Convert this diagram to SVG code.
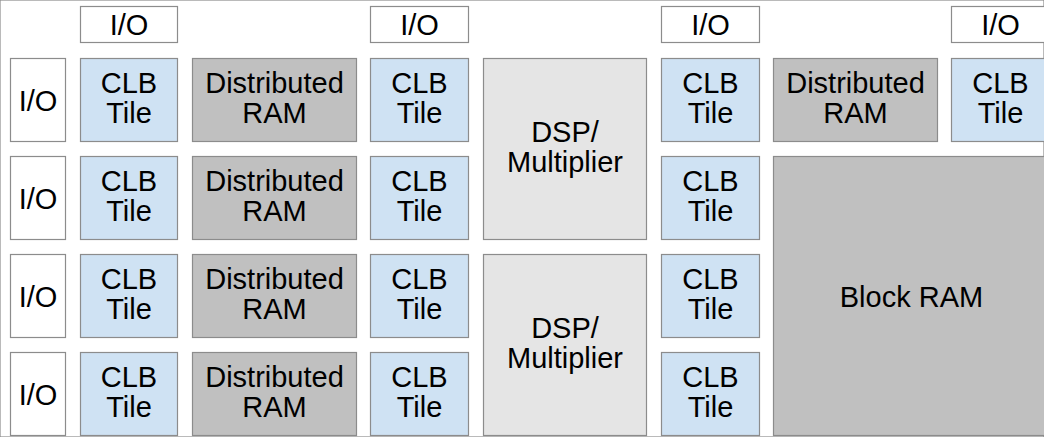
<svg xmlns="http://www.w3.org/2000/svg" width="1044" height="437" viewBox="0 0 1044 437">
  <style>
    rect { stroke: #8c8c8c; stroke-width: 1.2; }
    .io { fill: #ffffff; }
    .clb { fill: #cfe2f3; }
    .dram { fill: #c0c0c0; }
    .dsp { fill: #e5e5e5; }
    .bram { fill: #c0c0c0; }
    text { font-family: "Liberation Sans", Arial, sans-serif; font-size: 29px; fill: #000000; text-anchor: middle; }
  </style>
  <rect width="1044" height="437" fill="#ffffff" stroke="none"/>

  <!-- top I/O pads -->
  <g id="io-top-1"><rect class="io" x="80.5" y="6.5" width="97" height="36"/><text x="129" y="35">I/O</text></g>
  <g id="io-top-2"><rect class="io" x="370.5" y="6.5" width="98" height="36"/><text x="419.5" y="35">I/O</text></g>
  <g id="io-top-3"><rect class="io" x="661.5" y="6.5" width="98" height="36"/><text x="710.5" y="35">I/O</text></g>
  <g id="io-top-4"><rect class="io" x="951.5" y="6.5" width="98" height="36"/><text x="1000.5" y="35">I/O</text></g>

  <!-- left I/O pads -->
  <g id="io-left-1"><rect class="io" x="10.5" y="58.5" width="55" height="83"/><text x="38" y="111">I/O</text></g>
  <g id="io-left-2"><rect class="io" x="10.5" y="156.5" width="55" height="83"/><text x="38" y="209">I/O</text></g>
  <g id="io-left-3"><rect class="io" x="10.5" y="254.5" width="55" height="83"/><text x="38" y="307">I/O</text></g>
  <g id="io-left-4"><rect class="io" x="10.5" y="352.5" width="55" height="83"/><text x="38" y="405">I/O</text></g>

  <!-- CLB column 1 -->
  <g id="clb-1-1"><rect class="clb" x="80.5" y="58.5" width="97" height="83"/><text x="129" y="93">CLB</text><text x="129" y="123">Tile</text></g>
  <g id="clb-1-2"><rect class="clb" x="80.5" y="156.5" width="97" height="83"/><text x="129" y="191">CLB</text><text x="129" y="221">Tile</text></g>
  <g id="clb-1-3"><rect class="clb" x="80.5" y="254.5" width="97" height="83"/><text x="129" y="289">CLB</text><text x="129" y="319">Tile</text></g>
  <g id="clb-1-4"><rect class="clb" x="80.5" y="352.5" width="97" height="83"/><text x="129" y="387">CLB</text><text x="129" y="417">Tile</text></g>

  <!-- distributed RAM column -->
  <g id="dram-1"><rect class="dram" x="192.5" y="58.5" width="164" height="83"/><text x="274.5" y="93">Distributed</text><text x="274.5" y="123">RAM</text></g>
  <g id="dram-2"><rect class="dram" x="192.5" y="156.5" width="164" height="83"/><text x="274.5" y="191">Distributed</text><text x="274.5" y="221">RAM</text></g>
  <g id="dram-3"><rect class="dram" x="192.5" y="254.5" width="164" height="83"/><text x="274.5" y="289">Distributed</text><text x="274.5" y="319">RAM</text></g>
  <g id="dram-4"><rect class="dram" x="192.5" y="352.5" width="164" height="83"/><text x="274.5" y="387">Distributed</text><text x="274.5" y="417">RAM</text></g>

  <!-- CLB column 2 -->
  <g id="clb-2-1"><rect class="clb" x="370.5" y="58.5" width="98" height="83"/><text x="419.5" y="93">CLB</text><text x="419.5" y="123">Tile</text></g>
  <g id="clb-2-2"><rect class="clb" x="370.5" y="156.5" width="98" height="83"/><text x="419.5" y="191">CLB</text><text x="419.5" y="221">Tile</text></g>
  <g id="clb-2-3"><rect class="clb" x="370.5" y="254.5" width="98" height="83"/><text x="419.5" y="289">CLB</text><text x="419.5" y="319">Tile</text></g>
  <g id="clb-2-4"><rect class="clb" x="370.5" y="352.5" width="98" height="83"/><text x="419.5" y="387">CLB</text><text x="419.5" y="417">Tile</text></g>

  <!-- DSP blocks -->
  <g id="dsp-1"><rect class="dsp" x="483.5" y="58.5" width="163" height="181"/><text x="565" y="142">DSP/</text><text x="565" y="172">Multiplier</text></g>
  <g id="dsp-2"><rect class="dsp" x="483.5" y="254.5" width="163" height="181"/><text x="565" y="338">DSP/</text><text x="565" y="368">Multiplier</text></g>

  <!-- CLB column 3 -->
  <g id="clb-3-1"><rect class="clb" x="661.5" y="58.5" width="98" height="83"/><text x="710.5" y="93">CLB</text><text x="710.5" y="123">Tile</text></g>
  <g id="clb-3-2"><rect class="clb" x="661.5" y="156.5" width="98" height="83"/><text x="710.5" y="191">CLB</text><text x="710.5" y="221">Tile</text></g>
  <g id="clb-3-3"><rect class="clb" x="661.5" y="254.5" width="98" height="83"/><text x="710.5" y="289">CLB</text><text x="710.5" y="319">Tile</text></g>
  <g id="clb-3-4"><rect class="clb" x="661.5" y="352.5" width="98" height="83"/><text x="710.5" y="387">CLB</text><text x="710.5" y="417">Tile</text></g>

  <!-- right-hand region -->
  <g id="dram-5"><rect class="dram" x="773.5" y="58.5" width="164" height="83"/><text x="855.5" y="93">Distributed</text><text x="855.5" y="123">RAM</text></g>
  <g id="clb-4-1"><rect class="clb" x="951.5" y="58.5" width="98" height="83"/><text x="1000.5" y="93">CLB</text><text x="1000.5" y="123">Tile</text></g>
  <g id="block-ram"><rect class="bram" x="773.5" y="156.5" width="276" height="279"/><text x="911.5" y="306.5">Block RAM</text></g>
</svg>
